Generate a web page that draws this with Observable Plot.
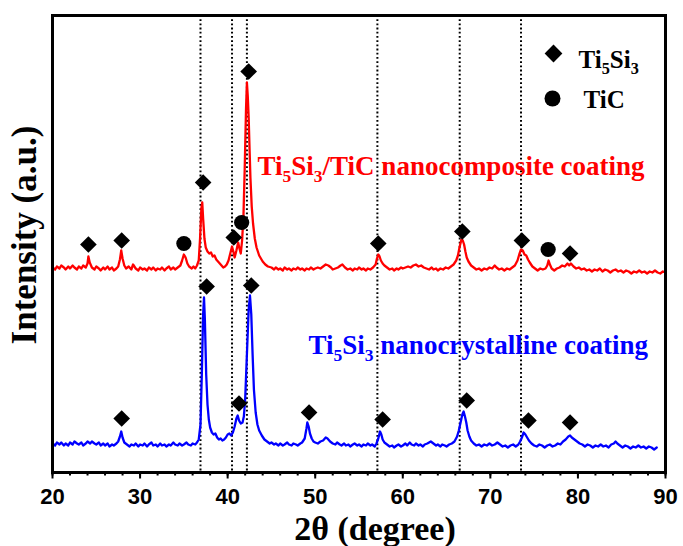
<!DOCTYPE html>
<html><head><meta charset="utf-8">
<script src="https://cdn.jsdelivr.net/npm/d3@7"></script>
<script src="https://cdn.jsdelivr.net/npm/@observablehq/plot@0.6"></script>
<style>body{margin:0;background:#fff} #chart svg{display:block}</style>
</head><body><div id="chart"></div>
<script>
// ---- data ----
const xTicks = [20, 30, 40, 50, 60, 70, 80, 90];
const xMinorTicks = [20,22,24,26,28,30,32,34,36,38,40,42,44,46,48,50,52,54,56,58,60,62,64,66,68,70,72,74,76,78,80,82,84,86,88,90];
const referenceLines = [36.9, 40.5, 42.2, 57.1, 66.5, 73.5];
const compositeOffset = 204;
const crystallineOffset = 28;
// [2θ, intensity above own baseline]
const compositeScan = [[20.0,1],[20.3,-1],[20.5,2],[20.8,0],[21.0,3],[21.3,1],[21.5,-1],[21.8,2],[22.0,0],[22.3,3],[22.5,1],[22.8,-1],[23.0,2],[23.3,0],[23.5,3],[23.8,1],[24.0,5],[24.1,12],[24.25,6],[24.5,1],[24.8,-1],[25.0,2],[25.3,0],[25.5,-2],[25.8,1],[26.0,-1],[26.3,2],[26.5,-1],[26.8,1],[27.0,-2],[27.3,0],[27.5,2],[27.7,9],[27.85,18],[28.0,10],[28.2,3],[28.4,0],[28.7,2],[29.0,-1],[29.2,4],[29.5,0],[29.8,-2],[30.0,1],[30.3,-1],[30.5,0],[30.8,-2],[31.0,1],[31.3,-1],[31.5,1],[31.8,-2],[32.0,0],[32.3,-1],[32.5,1],[32.8,-2],[33.0,0],[33.3,2],[33.5,-1],[33.8,1],[34.0,-1],[34.3,1],[34.6,3],[34.8,8],[35.0,14],[35.2,11],[35.4,5],[35.6,2],[35.9,0],[36.1,2],[36.3,0],[36.5,3],[36.7,8],[36.85,30],[37.0,60],[37.1,66],[37.2,50],[37.35,30],[37.5,21],[37.7,17],[37.9,15],[38.1,16],[38.3,12],[38.5,13],[38.7,9],[38.9,7],[39.1,5],[39.3,3],[39.5,1],[39.7,2],[39.9,4],[40.1,8],[40.3,15],[40.5,22],[40.65,17],[40.8,11],[41.0,18],[41.2,26],[41.35,20],[41.5,15],[41.65,28],[41.8,51],[41.95,100],[42.1,160],[42.2,186],[42.3,172],[42.4,151],[42.5,120],[42.6,91],[42.75,62],[42.9,45],[43.1,30],[43.3,21],[43.6,13],[44.0,7],[44.3,4],[44.6,2],[45.0,1],[45.3,-1],[45.5,1],[45.8,-1],[46.0,0],[46.3,-2],[46.5,1],[46.8,-1],[47.0,0],[47.3,-2],[47.5,0],[47.8,-1],[48.0,1],[48.3,-1],[48.5,0],[48.8,-2],[49.0,0],[49.3,-1],[49.5,1],[49.8,-1],[50.0,0],[50.3,1],[50.6,0],[50.9,2],[51.2,4],[51.5,3],[51.8,1],[52.0,-1],[52.3,0],[52.6,1],[52.9,3],[53.1,4],[53.4,1],[53.7,-1],[54.0,0],[54.3,-2],[54.5,0],[54.8,-1],[55.0,1],[55.3,-1],[55.5,0],[55.8,-2],[56.0,0],[56.3,-1],[56.6,1],[56.9,4],[57.05,10],[57.2,14],[57.35,12],[57.5,8],[57.7,5],[57.9,3],[58.2,1],[58.5,-1],[58.8,0],[59.0,-2],[59.3,0],[59.5,-1],[59.8,1],[60.0,0],[60.3,1],[60.6,2],[60.9,1],[61.2,3],[61.5,4],[61.8,2],[62.1,3],[62.4,1],[62.7,0],[63.0,-1],[63.3,1],[63.5,-1],[63.8,0],[64.0,-2],[64.3,0],[64.6,-1],[64.9,1],[65.2,0],[65.5,2],[65.8,4],[66.1,8],[66.3,13],[66.5,22],[66.7,29],[66.85,28],[67.0,24],[67.15,17],[67.3,11],[67.5,7],[67.8,3],[68.1,1],[68.4,-1],[68.7,0],[69.0,-2],[69.3,0],[69.6,-1],[69.9,1],[70.2,0],[70.5,3],[70.7,1],[71.0,-1],[71.3,0],[71.6,-2],[71.9,0],[72.2,-1],[72.5,1],[72.8,3],[73.1,8],[73.3,14],[73.5,19],[73.7,18],[73.9,14],[74.1,13],[74.3,9],[74.5,6],[74.8,2],[75.1,0],[75.4,-2],[75.7,0],[76.0,-1],[76.3,0],[76.5,3],[76.65,8],[76.8,4],[77.0,0],[77.3,-2],[77.6,0],[77.9,1],[78.2,3],[78.5,2],[78.8,5],[79.0,3],[79.2,5],[79.5,2],[79.8,0],[80.1,1],[80.4,-1],[80.7,0],[81.0,-2],[81.3,-1],[81.6,-3],[81.9,-1],[82.2,-2],[82.5,0],[82.8,-3],[83.1,-1],[83.4,-2],[83.7,-4],[84.0,-2],[84.3,-1],[84.6,-3],[84.9,-2],[85.2,-4],[85.5,-2],[85.8,-3],[86.1,-5],[86.4,-3],[86.7,-4],[87.0,-2],[87.3,-4],[87.6,-3],[87.9,-5],[88.2,-3],[88.5,-4],[88.8,-2],[89.1,-4],[89.4,-5],[89.7,-3],[90.0,-4]];
const crystallineScan = [[20.0,1],[20.3,-1],[20.5,2],[20.8,0],[21.0,2],[21.3,-1],[21.5,1],[21.8,-1],[22.0,2],[22.3,0],[22.5,3],[22.8,1],[23.0,0],[23.3,2],[23.5,-1],[23.8,1],[24.0,3],[24.3,1],[24.5,3],[24.8,1],[25.0,0],[25.3,2],[25.5,-1],[25.8,1],[26.0,-1],[26.3,1],[26.5,-2],[26.8,0],[27.0,-1],[27.3,1],[27.5,3],[27.7,8],[27.85,13],[28.0,7],[28.2,2],[28.5,0],[28.8,-2],[29.0,0],[29.3,-1],[29.5,1],[29.8,-2],[30.0,0],[30.3,-1],[30.5,1],[30.8,-2],[31.0,0],[31.3,2],[31.5,-1],[31.8,0],[32.0,-2],[32.3,1],[32.5,-1],[32.8,0],[33.0,-2],[33.3,0],[33.5,-1],[33.8,2],[34.0,0],[34.3,-1],[34.5,1],[34.8,-1],[35.0,0],[35.3,2],[35.5,0],[35.8,-1],[36.0,1],[36.3,0],[36.5,2],[36.7,5],[36.9,20],[37.05,70],[37.2,130],[37.3,147],[37.4,125],[37.55,70],[37.7,40],[37.85,25],[38.0,17],[38.2,12],[38.4,10],[38.6,11],[38.8,7],[39.0,5],[39.2,6],[39.4,4],[39.6,5],[39.8,7],[40.0,10],[40.2,11],[40.4,9],[40.6,12],[40.8,18],[41.0,26],[41.15,29],[41.3,24],[41.5,21],[41.7,22],[41.85,28],[42.0,45],[42.2,90],[42.4,135],[42.55,149],[42.7,130],[42.85,90],[43.0,55],[43.2,32],[43.4,20],[43.6,14],[43.9,9],[44.2,5],[44.5,3],[44.8,1],[45.0,2],[45.3,0],[45.5,1],[45.8,-1],[46.0,1],[46.3,-1],[46.5,0],[46.8,2],[47.0,0],[47.3,-1],[47.5,1],[47.8,0],[48.0,-1],[48.3,1],[48.5,2],[48.8,6],[49.0,16],[49.1,22],[49.25,18],[49.4,11],[49.6,6],[49.8,3],[50.0,2],[50.3,1],[50.6,3],[50.9,4],[51.2,7],[51.4,6],[51.7,3],[52.0,1],[52.3,0],[52.5,2],[52.8,0],[53.0,-1],[53.3,1],[53.5,-1],[53.8,0],[54.0,-2],[54.3,0],[54.5,1],[54.8,-1],[55.0,0],[55.3,-2],[55.5,0],[55.8,-1],[56.0,1],[56.3,-1],[56.5,0],[56.8,-2],[57.0,1],[57.2,6],[57.4,13],[57.55,10],[57.7,5],[57.9,2],[58.2,0],[58.5,-2],[58.8,-1],[59.0,-3],[59.3,-1],[59.5,0],[59.8,-2],[60.0,-1],[60.3,1],[60.5,-1],[60.8,2],[61.0,0],[61.3,-1],[61.5,1],[61.8,-1],[62.0,0],[62.3,-2],[62.5,0],[62.8,1],[63.0,2],[63.2,3],[63.5,1],[63.8,-1],[64.0,0],[64.3,-2],[64.5,0],[64.8,-1],[65.0,-2],[65.3,0],[65.6,1],[65.9,3],[66.2,8],[66.4,14],[66.6,22],[66.8,30],[66.95,33],[67.1,28],[67.25,22],[67.4,14],[67.6,8],[67.8,4],[68.1,1],[68.4,-1],[68.7,0],[69.0,-2],[69.3,0],[69.6,-1],[69.9,1],[70.2,-1],[70.5,0],[70.8,2],[71.1,0],[71.4,-2],[71.7,-1],[72.0,-3],[72.3,-1],[72.6,0],[72.9,-2],[73.2,0],[73.4,3],[73.6,7],[73.8,12],[74.0,10],[74.2,7],[74.4,4],[74.7,1],[75.0,-1],[75.3,-2],[75.6,0],[75.9,-1],[76.2,-3],[76.5,-1],[76.8,0],[77.1,-2],[77.4,-1],[77.7,1],[78.0,0],[78.3,3],[78.6,5],[78.9,8],[79.1,9],[79.3,7],[79.6,5],[79.9,3],[80.2,1],[80.5,0],[80.8,-2],[81.1,0],[81.4,-1],[81.7,-3],[82.0,-1],[82.3,-2],[82.6,0],[82.9,-2],[83.2,-1],[83.5,-3],[83.8,0],[84.1,1],[84.3,3],[84.5,1],[84.8,-1],[85.1,-3],[85.4,-1],[85.7,-2],[86.0,-4],[86.3,-2],[86.6,-3],[86.9,-1],[87.2,-3],[87.5,-2],[87.8,-4],[88.1,-2],[88.4,-3],[88.7,-5],[89.0,-3]];
// phase markers [2θ, marker height]
const compositeTi5Si3 = [[24.1,228],[27.9,232],[37.2,290],[40.7,235],[42.4,401],[57.2,229],[66.8,241],[73.6,232],[79.1,219]];
const compositeTiC = [[35.0,229],[41.6,250],[76.6,223]];
const crystallineTi5Si3 = [[27.9,54],[37.6,186],[41.3,69],[42.7,187],[49.3,60],[57.7,53],[67.3,72],[74.35,52],[79.1,50]];
const seriesLabels = ["Ti_5Si_3/TiC nanocomposite coating", "Ti_5Si_3 nanocrystalline coating"];
const legendLabels = ["Ti_5Si_3", "TiC"];
const xTitle = "2θ (degree)";
const yTitle = "Intensity (a.u.)";

// ---- chart ----
const serif = "'Liberation Serif', 'Times New Roman', serif";
const sans = "'Liberation Sans', Arial, sans-serif";
const RED = "#ff0000", BLUE = "#0000ff";

const plot = Plot.plot({
  width: 683, height: 546,
  marginLeft: 52, marginRight: 18, marginTop: 15, marginBottom: 74,
  x: {domain: [20, 90]},
  y: {domain: [0, 457], axis: null},
  style: {background: "#fff", color: "#000"},
  marks: [
    Plot.ruleX(referenceLines, {stroke: "#000", strokeWidth: 2, strokeDasharray: "1.8,2.4"}),
    Plot.line(compositeScan, {x: d => d[0], y: d => d[1] + compositeOffset, stroke: RED, strokeWidth: 2.3}),
    Plot.line(crystallineScan, {x: d => d[0], y: d => d[1] + crystallineOffset, stroke: BLUE, strokeWidth: 2.3}),
    Plot.dot(compositeTi5Si3, {x: d => d[0], y: d => d[1], symbol: "diamond2", fill: "#000", r: 7.5}),
    Plot.dot(crystallineTi5Si3, {x: d => d[0], y: d => d[1], symbol: "diamond2", fill: "#000", r: 7.5}),
    Plot.dot(compositeTiC, {x: d => d[0], y: d => d[1], symbol: "circle", fill: "#000", r: 7.6}),
    // series labels
    Plot.text([seriesLabels[0]], {frameAnchor: "top-left", textAnchor: "start", lineAnchor: "middle", dx: 205, dy: 151, fill: RED, fontSize: 27, fontWeight: "bold", fontFamily: serif}),
    Plot.text([seriesLabels[1]], {frameAnchor: "top-left", textAnchor: "start", lineAnchor: "middle", dx: 256, dy: 330, fill: BLUE, fontSize: 27, fontWeight: "bold", fontFamily: serif}),
    // legend
    Plot.dot([legendLabels[0]], {frameAnchor: "top-left", dx: 501, dy: 38, symbol: "diamond2", fill: "#000", r: 8}),
    Plot.dot([legendLabels[1]], {frameAnchor: "top-left", dx: 500, dy: 83, symbol: "circle", fill: "#000", r: 8}),
    Plot.text([legendLabels[0]], {frameAnchor: "top-left", textAnchor: "start", lineAnchor: "middle", dx: 526, dy: 44, fill: "#000", fontSize: 25, fontWeight: "bold", fontFamily: serif}),
    Plot.text([legendLabels[1]], {frameAnchor: "top-left", textAnchor: "start", lineAnchor: "middle", dx: 531, dy: 84, fill: "#000", fontSize: 25, fontWeight: "bold", fontFamily: serif}),
    // axis titles
    Plot.text([xTitle], {frameAnchor: "bottom", textAnchor: "middle", lineAnchor: "bottom", dx: 16, dy: 67, fill: "#000", fontSize: 34, fontWeight: "bold", fontFamily: serif}),
    Plot.text([yTitle], {frameAnchor: "left", textAnchor: "middle", lineAnchor: "middle", rotate: -90, dx: -28, dy: -9, fill: "#000", fontSize: 35, fontWeight: "bold", fontFamily: serif}),
    // axes & frame
    Plot.axisX(xMinorTicks, {tickSize: 3.5, text: null, label: null, strokeWidth: 2}),
    Plot.axisX(xTicks, {tickSize: 6.5, tickPadding: 9, label: null, strokeWidth: 2, fontSize: 22, fontWeight: "bold", fontFamily: sans, fill: "#000"}),
    Plot.frame({stroke: "#000", strokeWidth: 3})
  ]
});

document.getElementById("chart").appendChild(plot);

// subscripts: "X_5" -> X with subscript 5
plot.querySelectorAll("text").forEach(t => {
  const s = t.textContent;
  if (!s.includes("_")) return;
  const parts = s.split(/_(\d)/);
  t.textContent = "";
  const NS = "http://www.w3.org/2000/svg";
  let afterSub = false;
  parts.forEach((p, i) => {
    if (p === "") return;
    const ts = document.createElementNS(NS, "tspan");
    ts.textContent = p;
    if (i % 2 === 1) {
      ts.setAttribute("font-size", "0.65em");
      ts.setAttribute("dy", "0.38em");
      afterSub = true;
    } else if (afterSub) {
      ts.setAttribute("dy", "-0.247em");
      afterSub = false;
    }
    t.appendChild(ts);
  });
});
</script>
</body></html>
